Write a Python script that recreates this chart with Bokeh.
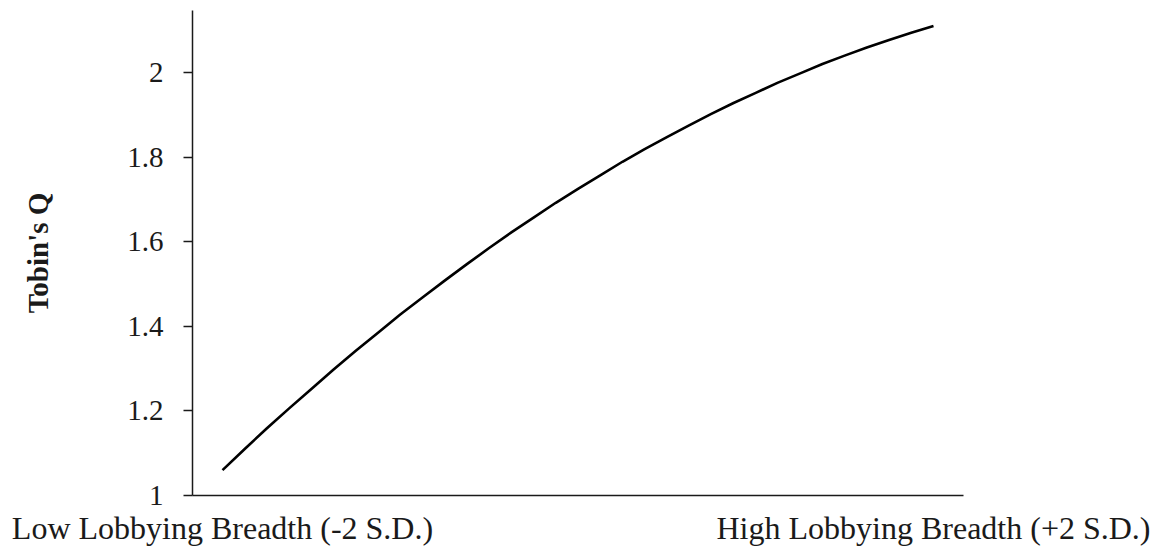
from bokeh.plotting import figure
from bokeh.models import Range1d, FixedTicker
from bokeh.embed import file_html
from bokeh.resources import INLINE

# Data
lobbying_sd = [-2.0, -1.875, -1.75, -1.625, -1.5, -1.375, -1.25, -1.125,
               -1.0, -0.875, -0.75, -0.625, -0.5, -0.375, -0.25, -0.125,
               0.0, 0.125, 0.25, 0.375, 0.5, 0.625, 0.75, 0.875,
               1.0, 1.125, 1.25, 1.375, 1.5, 1.625, 1.75, 1.875, 2.0]
tobins_q = [1.060, 1.110, 1.159, 1.206, 1.252, 1.298, 1.342, 1.385,
            1.428, 1.468, 1.508, 1.547, 1.585, 1.622, 1.657, 1.692,
            1.725, 1.757, 1.789, 1.819, 1.847, 1.875, 1.902, 1.928,
            1.952, 1.976, 1.998, 2.020, 2.040, 2.059, 2.077, 2.094, 2.110]

y_ticks = [1.0, 1.2, 1.4, 1.6, 1.8, 2.0]
y_tick_labels = ["1", "1.2", "1.4", "1.6", "1.8", "2"]
x_ticks = [-2.0, 2.0]
x_tick_labels = ["Low Lobbying Breadth (-2 S.D.)", "High Lobbying Breadth (+2 S.D.)"]
y_title = "Tobin's Q"

FONT = "Liberation Serif"
INK = "#1a1a1a"

p = figure(width=1151, height=549, output_backend="svg", toolbar_location=None,
           x_range=Range1d(-2.1688, 2.1688), y_range=Range1d(1.0, 2.1466),
           min_border_left=192, min_border_right=188, min_border_top=10,
           min_border_bottom=54)
p.outline_line_color = None
p.xgrid.visible = False
p.ygrid.visible = False
p.background_fill_color = "white"
p.border_fill_color = "white"

p.line(lobbying_sd, tobins_q, line_color="black", line_width=2.6,
       line_join="round")

# y axis
ya = p.yaxis[0]
ya.ticker = FixedTicker(ticks=y_ticks)
ya.major_label_overrides = {t: s for t, s in zip(y_ticks, y_tick_labels)}
ya.minor_tick_line_color = None
ya.major_tick_in = 0
ya.major_tick_out = 9
ya.major_tick_line_color = INK
ya.major_tick_line_width = 1.5
ya.axis_line_color = INK
ya.axis_line_width = 1.5
ya.major_label_text_font = FONT
ya.major_label_text_font_size = "29px"
ya.major_label_text_color = INK
ya.major_label_standoff = 20
ya.axis_label = y_title
ya.axis_label_text_font = FONT
ya.axis_label_text_font_style = "bold"
ya.axis_label_text_font_size = "29px"
ya.axis_label_text_color = INK
ya.axis_label_standoff = 70

# x axis
xa = p.xaxis[0]
xa.ticker = FixedTicker(ticks=x_ticks)
xa.major_label_overrides = {t: s for t, s in zip(x_ticks, x_tick_labels)}
xa.minor_tick_line_color = None
xa.major_tick_in = 0
xa.major_tick_out = 0
xa.major_tick_line_color = None
xa.axis_line_color = INK
xa.axis_line_width = 1.5
xa.major_label_text_font = FONT
xa.major_label_text_font_size = "32px"
xa.major_label_text_color = INK
xa.major_label_standoff = 14

open("out.html", "w").write(file_html(p, INLINE))
